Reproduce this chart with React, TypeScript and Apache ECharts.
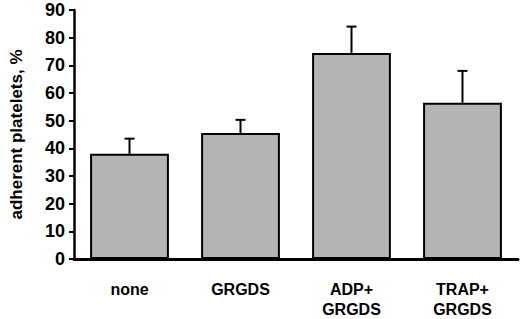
import React, { useEffect, useRef } from "react";
import * as echarts from "echarts";

const categories = ["none", "GRGDS", "ADP+\nGRGDS", "TRAP+\nGRGDS"];
const means = [38, 45.5, 74.5, 56.5];
const errorTops = [43.5, 50.3, 84, 68];
const yTicks = { min: 0, max: 90, interval: 10 };

const FONT = "'Liberation Sans', Arial, Helvetica, sans-serif";

export default function App() {
  const ref = useRef<HTMLDivElement>(null);
  useEffect(() => {
    if (!ref.current) return;
    const chart = echarts.init(ref.current, null, { renderer: "svg" });
    const errData = categories.map((_, i) => [i, means[i], errorTops[i]]);
    chart.setOption({
      animation: false,
      grid: { left: 65, right: 2, top: 10, bottom: 58 },
      xAxis: {
        type: "category",
        data: categories,
        axisLine: { lineStyle: { color: "#000", width: 3 } },
        axisTick: { show: false },
        axisLabel: {
          color: "#000",
          fontFamily: FONT,
          fontWeight: "bold",
          fontSize: 16,
          lineHeight: 20,
          margin: 20,
        },
      },
      yAxis: {
        type: "value",
        min: yTicks.min,
        max: yTicks.max,
        interval: yTicks.interval,
        name: "adherent platelets, %",
        nameLocation: "middle",
        nameRotate: 90,
        nameGap: 49,
        nameTextStyle: {
          color: "#000",
          fontFamily: FONT,
          fontWeight: "bold",
          fontSize: 17,
        },
        splitLine: { show: false },
        axisLine: { show: true, lineStyle: { color: "#000", width: 2.5 } },
        axisTick: { show: true, length: 5, lineStyle: { color: "#000", width: 2 } },
        axisLabel: {
          color: "#000",
          fontFamily: FONT,
          fontWeight: "bold",
          fontSize: 18,
          margin: 9,
        },
      },
      series: [
        {
          type: "bar",
          data: means,
          barWidth: "71%",
          itemStyle: { color: "#b4b4b4", borderColor: "#000", borderWidth: 2 },
          z: 2,
        },
        {
          type: "custom",
          data: errData,
          z: 3,
          renderItem: (params: any, api: any) => {
            const i = api.value(0);
            const lo = api.coord([i, api.value(1)]);
            const hi = api.coord([i, api.value(2)]);
            const half = 5;
            return {
              type: "group",
              children: [
                {
                  type: "line",
                  shape: { x1: lo[0], y1: lo[1], x2: hi[0], y2: hi[1] },
                  style: { stroke: "#000", lineWidth: 2 },
                },
                {
                  type: "line",
                  shape: { x1: hi[0] - half, y1: hi[1], x2: hi[0] + half, y2: hi[1] },
                  style: { stroke: "#000", lineWidth: 2 },
                },
              ],
            };
          },
        },
      ],
    });
    return () => chart.dispose();
  }, []);
  return (
    <div
      ref={ref}
      style={{ position: "fixed", left: 0, top: 0, width: 520, height: 319, background: "#fff" }}
    />
  );
}
